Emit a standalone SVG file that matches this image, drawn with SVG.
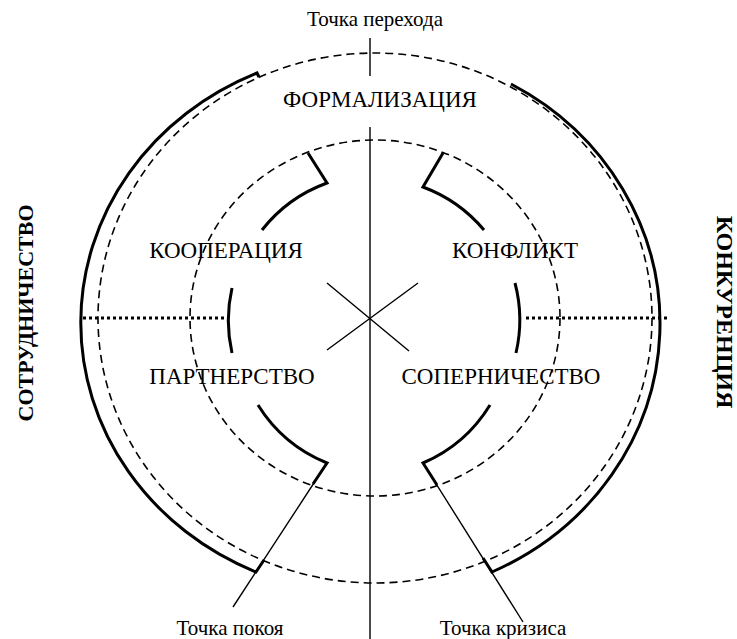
<svg xmlns="http://www.w3.org/2000/svg" width="737" height="639" viewBox="0 0 737 639">
<style>
.thick{stroke:#000;stroke-width:3;fill:none;stroke-linejoin:miter}
.dash{stroke:#000;stroke-width:1.6;stroke-dasharray:8 5;fill:none}
.thin{stroke:#000;stroke-width:1.4;fill:none}
.dot{stroke:#000;stroke-width:3;stroke-dasharray:3 3;fill:none}
.lbl{font-family:"Liberation Serif","Times New Roman",serif;font-size:23px;fill:#000;text-anchor:middle}
.sm{font-family:"Liberation Serif","Times New Roman",serif;font-size:21px;fill:#000;text-anchor:middle}
.side{font-family:"Liberation Serif","Times New Roman",serif;font-size:22px;font-weight:bold;fill:#000;text-anchor:middle}
</style>
<rect width="737" height="639" fill="#fff"/>
<g id="connectors">
<ellipse class="dash" cx="375" cy="318" rx="277" ry="265"/>
<ellipse class="dash" cx="375" cy="318" rx="185" ry="178"/>
<path class="thin" d="M370 38V76M370 127V639"/>
<path class="thin" d="M327 283L409 351M327 350L418 283"/>
<path class="dot" d="M83 318H226M526 318H667"/>
<path class="thin" d="M233 607L327 463M523 622L423 463"/>
</g>
<g id="outer-left"><path class="thick" d="M259 77L257 73A292 272 0 0 0 256 572L264 560"/></g>
<g id="outer-right"><path class="thick" d="M511 84A290 274 0 0 1 492 572L483 558"/></g>
<g id="inner-upper-left"><path class="thick" d="M262 230A146 146 0 0 1 327 183L308 153"/></g>
<g id="inner-upper-right"><path class="thick" d="M484 230A146 146 0 0 0 423 187L443 153"/></g>
<g id="inner-lower-left"><path class="thick" d="M258 405A146 146 0 0 0 327 463L313 484"/></g>
<g id="inner-lower-right"><path class="thick" d="M490 405A146 146 0 0 1 423 463L437 485"/></g>
<g id="inner-left"><path class="thick" d="M232 288A146 146 0 0 0 232 353"/></g>
<g id="inner-right"><path class="thick" d="M515 283A146 146 0 0 1 516 353"/></g>
<g id="labels">
<text class="sm" x="375" y="26">Точка перехода</text>
<text class="lbl" x="380" y="107">ФОРМАЛИЗАЦИЯ</text>
<text class="lbl" x="226" y="258">КООПЕРАЦИЯ</text>
<text class="lbl" x="515" y="258">КОНФЛИКТ</text>
<text class="lbl" x="232" y="384">ПАРТНЕРСТВО</text>
<text class="lbl" x="501" y="384">СОПЕРНИЧЕСТВО</text>
<text class="sm" x="230" y="635">Точка покоя</text>
<text class="sm" x="503" y="635">Точка кризиса</text>
<text class="side" transform="translate(33 313) rotate(-90)">СОТРУДНИЧЕСТВО</text>
<text class="side" style="font-size:24px" transform="translate(717 312) rotate(90)">КОНКУРЕНЦИЯ</text>
</g>
</svg>
